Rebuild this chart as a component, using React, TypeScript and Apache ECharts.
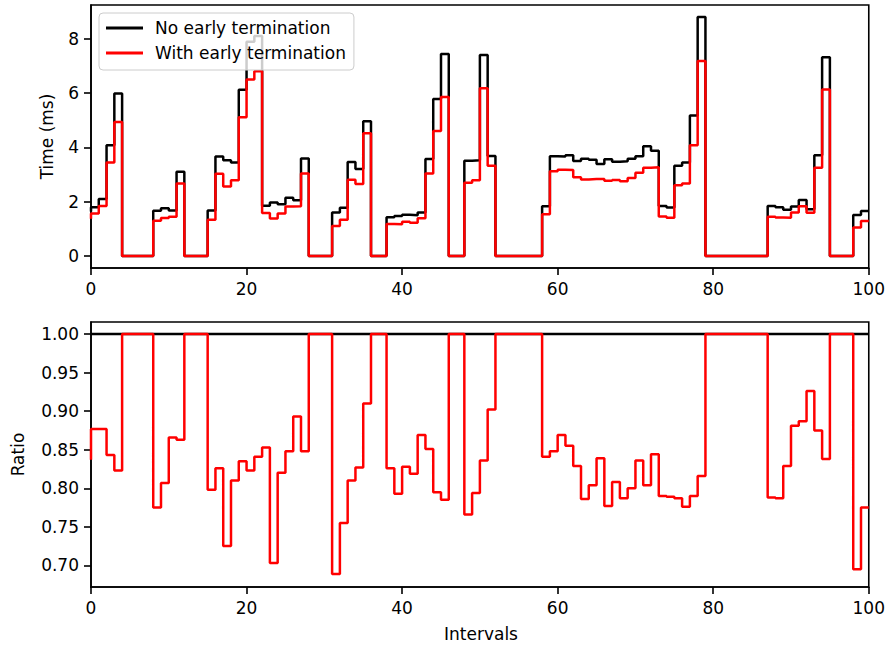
import React, { useEffect, useRef } from "react";
import * as echarts from "echarts";

// x positions 0..100; value at index k holds on (k-1, k] (matplotlib "pre" steps)
const xTicks = [0, 20, 40, 60, 80, 100];
const timeTicks = [0, 2, 4, 6, 8];
const ratioTicks = [0.7, 0.75, 0.8, 0.85, 0.9, 0.95, 1.0];

const noEarly = [
  1.64,
  1.80, 2.10, 4.08, 5.98, 0, 0, 0, 0, 1.67, 1.76,
  1.68, 3.10, 0, 0, 0, 1.68, 3.66, 3.53, 3.44, 6.12,
  7.89, 8.10, 1.85, 1.97, 1.91, 2.15, 2.05, 3.59, 0, 0,
  0, 1.60, 1.78, 3.46, 3.20, 4.96, 0, 0, 1.43, 1.47,
  1.52, 1.50, 1.60, 3.57, 5.78, 7.44, 0, 0, 3.51, 3.53,
  7.40, 3.68, 0, 0, 0, 0, 0, 0, 1.83, 3.67,
  3.66, 3.71, 3.50, 3.58, 3.54, 3.39, 3.56, 3.47, 3.49, 3.58,
  3.67, 4.04, 3.88, 1.84, 1.79, 3.32, 3.44, 5.17, 8.80, 0,
  0, 0, 0, 0, 0, 0, 0, 1.84, 1.80, 1.70,
  1.82, 2.06, 1.72, 3.71, 7.32, 0, 0, 0, 1.51, 1.66,
];

const withEarly = [
  1.37,
  1.57, 1.84, 3.44, 4.93, 0, 0, 0, 0, 1.30, 1.40,
  1.45, 2.67, 0, 0, 0, 1.34, 3.03, 2.56, 2.79, 5.11,
  6.50, 6.80, 1.58, 1.38, 1.57, 1.82, 1.83, 3.04, 0, 0,
  0, 1.11, 1.34, 2.81, 2.65, 4.52, 0, 0, 1.18, 1.17,
  1.26, 1.23, 1.39, 3.04, 4.60, 5.85, 0, 0, 2.70, 2.79,
  6.18, 3.32, 0, 0, 0, 0, 0, 0, 1.54, 3.12,
  3.18, 3.17, 2.90, 2.82, 2.84, 2.84, 2.77, 2.80, 2.75, 2.87,
  3.07, 3.25, 3.27, 1.46, 1.41, 2.61, 2.67, 4.08, 7.18, 0,
  0, 0, 0, 0, 0, 0, 0, 1.45, 1.42, 1.41,
  1.60, 1.83, 1.59, 3.25, 6.13, 0, 0, 0, 1.05, 1.29,
];

const ratio = [
  0.837,
  0.877, 0.877, 0.843, 0.823, 1, 1, 1, 1, 0.775, 0.807,
  0.866, 0.863, 1, 1, 1, 0.798, 0.826, 0.725, 0.810, 0.835,
  0.823, 0.841, 0.853, 0.703, 0.820, 0.848, 0.893, 0.848, 1, 1,
  1, 0.689, 0.755, 0.810, 0.827, 0.910, 1, 1, 0.826, 0.793,
  0.828, 0.819, 0.869, 0.851, 0.795, 0.785, 1, 1, 0.766, 0.794,
  0.836, 0.902, 1, 1, 1, 1, 1, 1, 0.841, 0.848,
  0.869, 0.855, 0.829, 0.786, 0.804, 0.839, 0.777, 0.808, 0.787, 0.800,
  0.836, 0.804, 0.844, 0.790, 0.789, 0.787, 0.776, 0.790, 0.816, 1,
  1, 1, 1, 1, 1, 1, 1, 0.788, 0.787, 0.829,
  0.881, 0.887, 0.926, 0.875, 0.838, 1, 1, 1, 0.695, 0.775,
];

const baselineX = [0, 100];
const baselineY = [1, 1];

const FONT = "DejaVu Sans";
const FS = 17;
const LW = 2.5;

export default function App() {
  const ref = useRef<HTMLDivElement>(null);
  useEffect(() => {
    document.body.style.margin = "0";
    const chart = echarts.init(ref.current!, null, { renderer: "svg" });
    const pts = (arr: number[]) => arr.map((v, i) => [i, v]);
    const axisLine = { show: true, onZero: false, lineStyle: { color: "#000", width: 1.6 } };
    const tick = (vals: number[]) => ({
      show: true,
      length: 7,
      customValues: vals,
      lineStyle: { color: "#000", width: 1.6 },
    });
    const xAxisCommon = (gi: number) => ({
      gridIndex: gi,
      type: "value",
      min: xTicks[0],
      max: xTicks[xTicks.length - 1],
      interval: 20,
      axisLine,
      axisTick: { show: true, length: 7, lineStyle: { color: "#000", width: 1.6 } },
      axisLabel: { color: "#000", fontSize: FS, fontFamily: FONT, margin: 12 },
      splitLine: { show: false },
    });
    chart.setOption({
      animation: false,
      grid: [
        { left: 91, right: 17, top: 5, height: 263, show: true, borderColor: "#000", borderWidth: 1.6 },
        { left: 91, right: 17, top: 322, height: 265, show: true, borderColor: "#000", borderWidth: 1.6 },
      ],
      xAxis: [xAxisCommon(0), xAxisCommon(1)],
      yAxis: [
        {
          gridIndex: 0,
          type: "value",
          min: -0.44,
          max: 9.24,
          axisLine,
          axisTick: tick(timeTicks),
          axisLabel: { color: "#000", fontSize: FS, fontFamily: FONT, margin: 12, customValues: timeTicks },
          splitLine: { show: false },
        },
        {
          gridIndex: 1,
          type: "value",
          min: 0.672,
          max: 1.0156,
          axisLine,
          axisTick: tick(ratioTicks),
          axisLabel: {
            color: "#000",
            fontSize: FS,
            fontFamily: FONT,
            margin: 12,
            customValues: ratioTicks,
            formatter: (v: number) => v.toFixed(2),
          },
          splitLine: { show: false },
        },
      ],
      legend: {
        data: ["No early termination", "With early termination"],
        orient: "vertical",
        left: 99,
        top: 13,
        icon: "rect",
        itemWidth: 37,
        itemHeight: 3,
        itemGap: 5,
        padding: [5, 8, 7, 7],
        backgroundColor: "rgba(255,255,255,0.8)",
        borderColor: "#cccccc",
        borderWidth: 1,
        borderRadius: 4,
        textStyle: { color: "#000", fontSize: FS, fontFamily: FONT, lineHeight: 20, padding: [0, 0, 0, 7] },
      },
      graphic: [
        {
          type: "text",
          x: 47,
          y: 136.5,
          rotation: Math.PI / 2,
          style: {
            text: "Time (ms)",
            fill: "#000",
            font: `${FS}px "${FONT}"`,
            textAlign: "center",
            textVerticalAlign: "middle",
            align: "center",
            verticalAlign: "middle",
          },
        },
        {
          type: "text",
          x: 18,
          y: 454.5,
          rotation: Math.PI / 2,
          style: {
            text: "Ratio",
            fill: "#000",
            font: `${FS}px "${FONT}"`,
            textAlign: "center",
            textVerticalAlign: "middle",
            align: "center",
            verticalAlign: "middle",
          },
        },
        {
          type: "text",
          x: 481,
          y: 634,
          style: {
            text: "Intervals",
            fill: "#000",
            font: `${FS}px "${FONT}"`,
            textAlign: "center",
            textVerticalAlign: "middle",
            align: "center",
            verticalAlign: "middle",
          },
        },
      ],
      series: [
        {
          name: "No early termination",
          type: "line",
          xAxisIndex: 0,
          yAxisIndex: 0,
          data: pts(noEarly),
          step: "start",
          showSymbol: false,
          color: "#000000",
          lineStyle: { color: "#000000", width: LW },
          z: 2,
        },
        {
          name: "With early termination",
          type: "line",
          xAxisIndex: 0,
          yAxisIndex: 0,
          data: pts(withEarly),
          step: "start",
          showSymbol: false,
          color: "#ff0000",
          lineStyle: { color: "#ff0000", width: LW },
          z: 3,
        },
        {
          name: "Baseline",
          type: "line",
          xAxisIndex: 1,
          yAxisIndex: 1,
          data: baselineX.map((x, i) => [x, baselineY[i]]),
          showSymbol: false,
          color: "#000000",
          lineStyle: { color: "#000000", width: LW },
          z: 2,
        },
        {
          name: "Ratio",
          type: "line",
          xAxisIndex: 1,
          yAxisIndex: 1,
          data: pts(ratio),
          step: "start",
          showSymbol: false,
          color: "#ff0000",
          lineStyle: { color: "#ff0000", width: LW },
          z: 3,
        },
      ],
    });
    return () => chart.dispose();
  }, []);
  return <div ref={ref} style={{ width: 888, height: 647 }} />;
}
